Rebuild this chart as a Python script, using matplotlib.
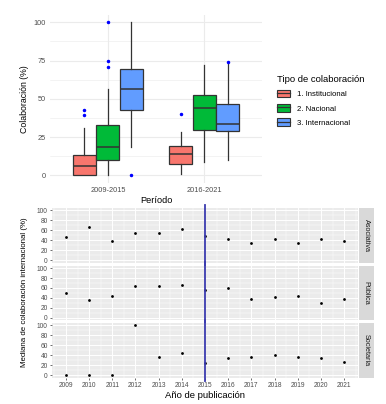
import matplotlib
matplotlib.use('Agg')
import matplotlib.pyplot as plt
from matplotlib.patches import Patch
from matplotlib.lines import Line2D
from matplotlib.legend_handler import HandlerTuple
import matplotlib.ticker as tck

plt.rcParams['font.family'] = ['Liberation Sans', 'DejaVu Sans']

# --- Top chart: collaboration by period ---
periods = ['2009-2015', '2016-2021']
collab_types = ['1. Institucional', '2. Nacional', '3. Internacional']
collab_colors = ['#F8766D', '#00BA38', '#619CFF']

# [whisker low, q1, median, q3, whisker high] for each period
inst_stats = [[0, 0, 6, 13.5, 31], [1, 7.6, 13.7, 19.4, 28.3]]
nac_stats = [[0, 10.2, 18.7, 32.9, 56.7], [8.7, 29.9, 44.2, 52.7, 72.4]]
intl_stats = [[18.7, 42.7, 56.2, 69.3, 100], [10.3, 29.2, 33.3, 46.6, 73]]
inst_outliers = [[39.7, 43], [40]]
nac_outliers = [[71, 74.5, 100], []]
intl_outliers = [[0], [74]]

# --- Bottom chart: median international collaboration by year ---
years = [2009, 2010, 2011, 2012, 2013, 2014, 2015, 2016, 2017, 2018, 2019, 2020, 2021]
facets = ['Asociativa', 'Pública', 'Societaria']
asociativa = [45.8, 67, 37.6, 54.8, 55.4, 63, 47.9, 42.5, 34.2, 43.1, 34.2, 41.7, 38.4]
publica = [49.4, 36.2, 43.8, 64.6, 64.6, 66.7, 56.3, 60.4, 38.3, 41, 43.1, 30, 36.9]
societaria = [0, 0, 0, 100, 37.3, 44.9, 24.8, 34.5, 36.6, 41.4, 36.6, 35.2, 26.9]
cutoff_year = 2015

W, H = 386, 404
TXT_GRAY = '#4D4D4D'


def px_axes(fig, left, top, right, bottom):
    return fig.add_axes([left / W, 1 - bottom / H, (right - left) / W, (bottom - top) / H])


fig = plt.figure(figsize=(W / 100, H / 100), dpi=100)

# === Top: boxplots ===
ax1 = px_axes(fig, 50, 14.6, 262, 183)
all_stats = [inst_stats, nac_stats, intl_stats]
all_out = [inst_outliers, nac_outliers, intl_outliers]
offsets = [-0.245, 0, 0.245]
for k in range(3):
    bxp_list = []
    for p in range(len(periods)):
        s = all_stats[k][p]
        bxp_list.append({'whislo': s[0], 'q1': s[1], 'med': s[2], 'q3': s[3],
                         'whishi': s[4], 'fliers': all_out[k][p]})
    pos = [p + 1 + offsets[k] for p in range(len(periods))]
    ax1.bxp(bxp_list, positions=pos, widths=0.235, patch_artist=True, showcaps=False,
            boxprops=dict(facecolor=collab_colors[k], edgecolor='#333333', linewidth=0.9),
            medianprops=dict(color='#333333', linewidth=1.1),
            whiskerprops=dict(color='#333333', linewidth=0.9),
            flierprops=dict(marker='o', markersize=1.5, markerfacecolor='blue',
                            markeredgecolor='blue'),
            zorder=3)

ax1.set_xlim(0.4, 2.6)
ax1.set_ylim(-5, 105)
ax1.set_xticks([1, 2])
ax1.set_xticklabels(periods)
ax1.set_yticks([0, 25, 50, 75, 100])
ax1.yaxis.set_minor_locator(tck.MultipleLocator(12.5))
ax1.grid(True, which='major', color='#EBEBEB', linewidth=0.8)
ax1.grid(True, which='minor', axis='y', color='#EBEBEB', linewidth=0.4)
ax1.set_axisbelow(True)
for sp in ax1.spines.values():
    sp.set_visible(False)
ax1.tick_params(which='both', length=0, labelsize=5.3, labelcolor=TXT_GRAY, pad=3)
ax1.set_xlabel('Período', fontsize=6.6, labelpad=1.5)
ax1.set_ylabel('Colaboración (%)', fontsize=6.3, labelpad=3)

handles = []
for c in collab_colors:
    handles.append((Line2D([], [], color='#333333', linewidth=0.6),
                    Patch(facecolor=c, edgecolor='#333333', linewidth=0.8),
                    Line2D([], [], color='#333333', linewidth=0.9)))
leg = fig.legend(handles, collab_types, handler_map={tuple: HandlerTuple(ndivide=1, pad=0)},
                 loc='upper left', bbox_to_anchor=(274 / W, 1 - 72 / H),
                 frameon=False, fontsize=5.6, title='Tipo de colaboración',
                 title_fontsize=6.8, handlelength=1.6, handleheight=1.1,
                 labelspacing=0.75, handletextpad=0.9, borderaxespad=0)
leg._legend_box.align = 'left'

# === Bottom: facets ===
series = [asociativa, publica, societaria]
panel_tops = [208, 265.7, 323]
panel_h = 54.5
axes = []
for i, name in enumerate(facets):
    top = panel_tops[i]
    ax = px_axes(fig, 52, top, 358, top + panel_h)
    ax.set_facecolor('#EBEBEB')
    ax.scatter(years, series[i], s=4, color='black', zorder=3, linewidths=0)
    ax.axvline(cutoff_year, color='#3B3BAF', linewidth=1.3, zorder=4,
               ymin=-0.06, ymax=1.06, clip_on=False)
    ax.set_xlim(2008.4, 2021.6)
    ax.set_ylim(-5, 105)
    ax.set_xticks(years)
    ax.xaxis.set_minor_locator(tck.MultipleLocator(0.5))
    ax.set_yticks([0, 20, 40, 60, 80, 100])
    ax.yaxis.set_minor_locator(tck.MultipleLocator(10))
    ax.grid(True, which='major', color='white', linewidth=0.7)
    ax.grid(True, which='minor', color='white', linewidth=0.35)
    ax.set_axisbelow(True)
    for sp in ax.spines.values():
        sp.set_visible(False)
    ax.tick_params(which='major', length=1.5, width=0.5, color='#333333',
                   labelsize=4.8, labelcolor=TXT_GRAY, pad=1.5)
    ax.tick_params(which='minor', length=0)
    if i < 2:
        ax.tick_params(axis='x', which='major', length=0, labelbottom=False)
    # strip on the right
    sax = px_axes(fig, 359, top, 373.5, top + panel_h)
    sax.set_facecolor('#D9D9D9')
    sax.set_xticks([])
    sax.set_yticks([])
    for sp in sax.spines.values():
        sp.set_visible(False)
    sax.text(0.5, 0.5, name, rotation=270, ha='center', va='center',
             fontsize=5.2, color='#1A1A1A', transform=sax.transAxes)
    axes.append(ax)

axes[-1].set_xlabel('Año de publicación', fontsize=6.8, labelpad=1.5)
fig.text(25 / W, 1 - 292 / H, 'Mediana de colaboración internacional (%)', rotation=90,
         ha='center', va='center', fontsize=5.7)

fig.savefig('out.png', dpi=100)
